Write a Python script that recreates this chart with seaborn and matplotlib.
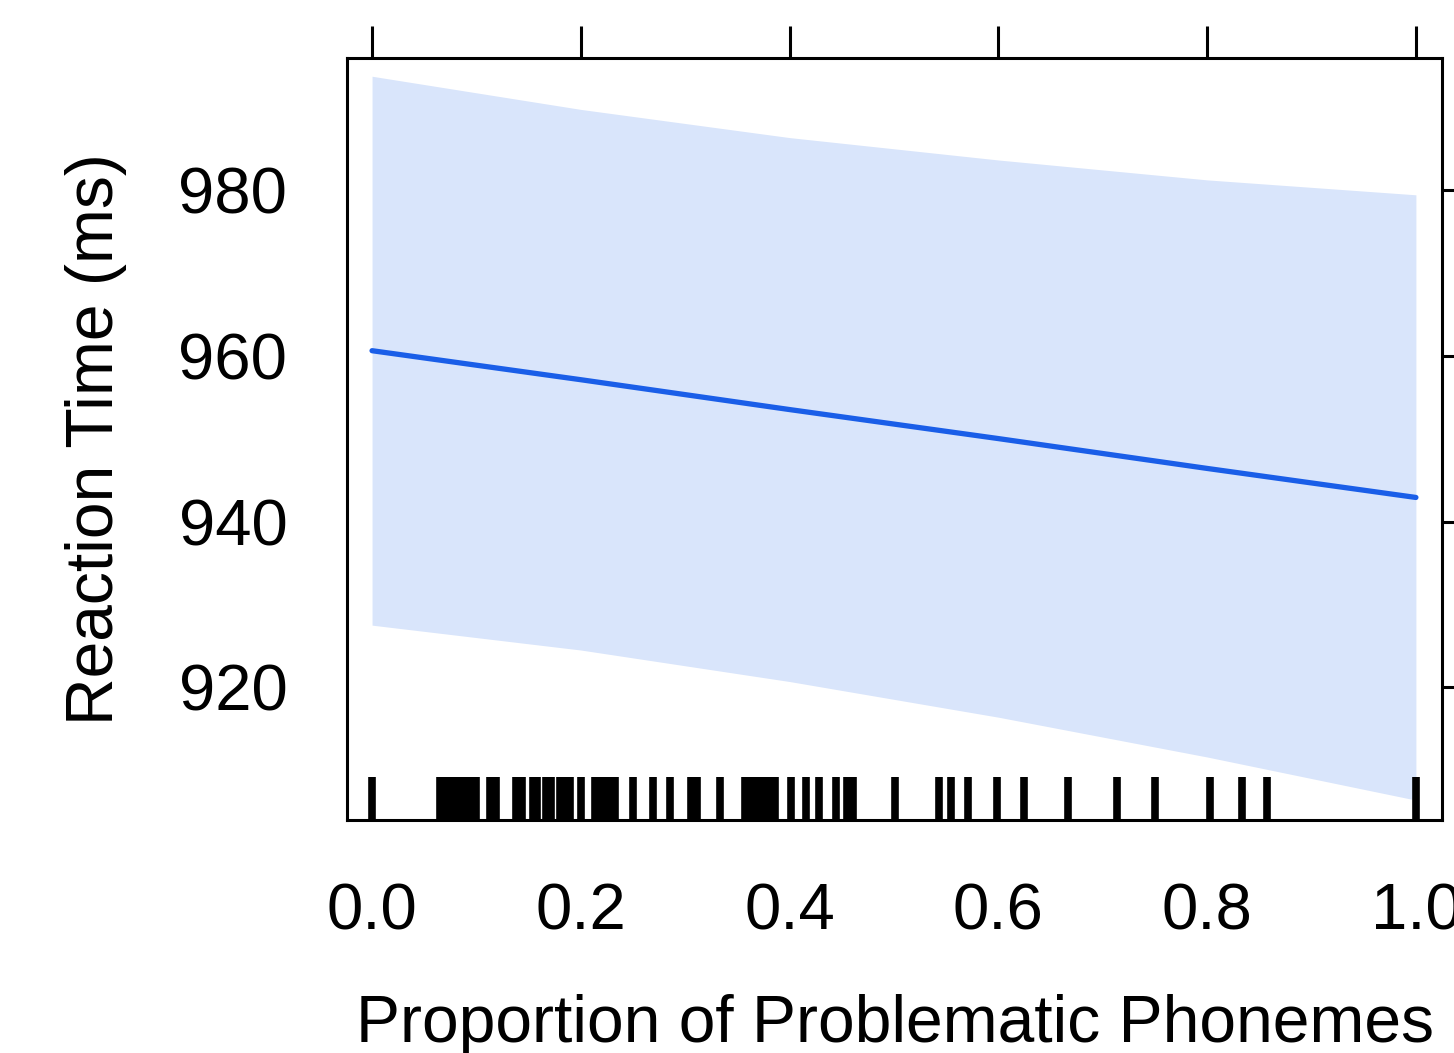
import matplotlib
matplotlib.use("Agg")
import matplotlib.pyplot as plt
import seaborn as sns
import numpy as np
import pandas as pd

# effect of proportion of problematic phonemes on RT
prop = [0.0, 0.2, 0.4, 0.6, 0.8, 1.0]
fit = [960.6, 957.1, 953.5, 950.0, 946.4, 942.9]
upper = [993.7, 989.7, 986.3, 983.6, 981.2, 979.4]
lower = [927.5, 924.5, 920.7, 916.4, 911.6, 906.4]

# observed proportions shown as rug
rug = [0.0, 0.065, 0.07, 0.075, 0.08, 0.085, 0.09, 0.095, 0.1, 0.113, 0.119,
       0.138, 0.144, 0.154, 0.158, 0.167, 0.171, 0.18, 0.185, 0.19, 0.2,
       0.214, 0.219, 0.224, 0.229, 0.233, 0.25, 0.269, 0.285, 0.306, 0.311,
       0.333, 0.357, 0.362, 0.367, 0.372, 0.377, 0.382, 0.386, 0.401, 0.416,
       0.428, 0.444, 0.455, 0.461, 0.501, 0.543, 0.555, 0.571, 0.599, 0.625,
       0.667, 0.714, 0.75, 0.803, 0.833, 0.857, 1.0]

xticks = [0.0, 0.2, 0.4, 0.6, 0.8, 1.0]
yticks = [920, 940, 960, 980]

sns.set_style("white")
plt.rcParams['font.family'] = ['Liberation Sans', 'DejaVu Sans']
plt.rcParams['text.color'] = 'black'
plt.rcParams['axes.labelcolor'] = 'black'
plt.rcParams['xtick.color'] = 'black'
plt.rcParams['ytick.color'] = 'black'

df = pd.DataFrame({'prop': prop, 'fit': fit})

fig = plt.figure(figsize=(14.54, 10.53), dpi=100)
ax = fig.add_axes([347 / 1454, 233 / 1053, 1095 / 1454, 762 / 1053])

ax.fill_between(prop, lower, upper, color='#d9e5fb', lw=0)
sns.lineplot(data=df, x='prop', y='fit', ax=ax, color='#1a5ee8', linewidth=3.8)
sns.rugplot(x=rug, ax=ax, height=0.057, color='black', linewidth=5.5)

ax.set_xlim(-0.024, 1.025)
ax.set_ylim(904, 995.9)
ax.set_xticks(xticks)
ax.set_xticklabels([f'{v:.1f}' for v in xticks])
ax.set_yticks(yticks)
ax.set_yticklabels([str(v) for v in yticks], rotation=0)

for s in ax.spines.values():
    s.set_linewidth(2.2)
    s.set_color('black')

ax.tick_params(axis='both', which='both', direction='out', length=23, width=2.2,
               colors='black', labelsize=47, top=True, right=True,
               labeltop=False, labelright=False)
ax.tick_params(axis='y', pad=20)
ax.tick_params(axis='x', pad=22)

ax.set_xlabel('Proportion of Problematic Phonemes', fontsize=47.5, labelpad=37)
ax.set_ylabel('Reaction Time (ms)', fontsize=47.5, labelpad=37)

fig.savefig('out.png', dpi=100)
